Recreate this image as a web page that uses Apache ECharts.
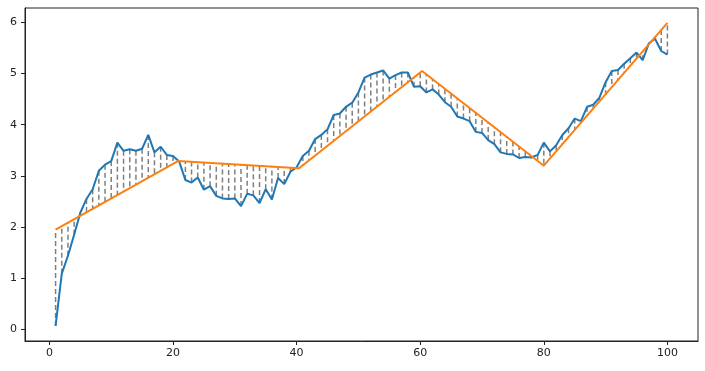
<!DOCTYPE html>
<html>
<head>
<meta charset="utf-8">
<script src="https://cdn.jsdelivr.net/npm/echarts@6/dist/echarts.min.js"></script>
<style>html,body{margin:0;padding:0;background:#fff}#c{width:705px;height:371px}</style>
</head>
<body>
<div id="c"></div>
<script>
// data x positions
var xValues = [];
for (var k = 1; k <= 100; k++) xValues.push(k);
// observed values (blue)
var observed = [0.07,1.09,1.44,1.85,2.28,2.55,2.74,3.10,3.22,3.29,
3.65,3.49,3.52,3.49,3.53,3.80,3.46,3.57,3.41,3.39,
3.28,2.92,2.87,2.97,2.73,2.80,2.61,2.56,2.55,2.56,
2.41,2.65,2.62,2.47,2.74,2.54,2.96,2.84,3.08,3.17,
3.39,3.49,3.72,3.80,3.91,4.19,4.22,4.35,4.43,4.63,
4.92,4.98,5.02,5.06,4.90,4.97,5.02,5.02,4.74,4.75,
4.63,4.69,4.59,4.44,4.35,4.16,4.12,4.07,3.86,3.84,
3.70,3.62,3.46,3.43,3.42,3.35,3.37,3.36,3.41,3.65,
3.48,3.60,3.80,3.93,4.12,4.07,4.35,4.39,4.53,4.83,
5.05,5.07,5.19,5.30,5.41,5.26,5.59,5.68,5.44,5.37];
// piecewise linear fit breakpoints (orange)
var fitBreakX = [1, 20.8, 40.4, 60.3, 80.0, 100];
var fitBreakY = [1.95, 3.29, 3.15, 5.05, 3.20, 5.99];
// tick labels
var xTicks = [0, 20, 40, 60, 80, 100];
var yTicks = [0, 1, 2, 3, 4, 5, 6];

function fitAt(x) {
  for (var i = 0; i < fitBreakX.length - 1; i++) {
    if (x <= fitBreakX[i + 1] || i === fitBreakX.length - 2) {
      var t = (x - fitBreakX[i]) / (fitBreakX[i + 1] - fitBreakX[i]);
      return fitBreakY[i] + t * (fitBreakY[i + 1] - fitBreakY[i]);
    }
  }
}

var blueData = xValues.map(function (x, i) { return [x, observed[i]]; });
var fitData = fitBreakX.map(function (x, i) { return [x, fitBreakY[i]]; });
var vlineData = xValues.map(function (x, i) { return [x, observed[i], fitAt(x)]; });

var font = 'DejaVu Sans';
var chart = echarts.init(document.getElementById('c'), null, {renderer: 'canvas'});
chart.setOption({
  animation: false,
  backgroundColor: '#fff',
  grid: {left: 25, right: 7, top: 8, bottom: 30, show: true, borderColor: '#222', borderWidth: 1, backgroundColor: 'transparent'},
  xAxis: {
    type: 'value', min: -3.95, max: 104.95,
    axisLine: {show: true, onZero: false, lineStyle: {color: '#222', width: 1}},
    axisTick: {show: true, length: 4, customValues: xTicks, lineStyle: {color: '#222'}},
    axisLabel: {customValues: xTicks, margin: 7, fontFamily: font, fontSize: 11, color: '#222'},
    splitLine: {show: false}
  },
  yAxis: {
    type: 'value', min: -0.225, max: 6.28,
    axisLine: {show: true, onZero: false, lineStyle: {color: '#222', width: 1}},
    axisTick: {show: true, length: 4, customValues: yTicks, lineStyle: {color: '#222'}},
    axisLabel: {customValues: yTicks, margin: 8, fontFamily: font, fontSize: 11, color: '#222'},
    splitLine: {show: false}
  },
  series: [
    {
      type: 'custom',
      data: vlineData,
      encode: {x: 0, y: [1, 2]},
      renderItem: function (params, api) {
        var x = api.value(0);
        var p0 = api.coord([x, api.value(1)]);
        var p1 = api.coord([x, api.value(2)]);
        return {type: 'line', shape: {x1: p0[0], y1: p0[1], x2: p1[0], y2: p1[1]},
          style: {stroke: '#7f7f7f', lineWidth: 1.5, lineDash: [5, 3]}};
      },
      z: 1
    },
    {
      type: 'line', data: blueData, showSymbol: false, symbol: 'none',
      lineStyle: {color: '#1f77b4', width: 2}, z: 2
    },
    {
      type: 'line', data: fitData, showSymbol: false, symbol: 'none',
      lineStyle: {color: '#ff7f0e', width: 2}, z: 3
    }
  ]
});
</script>
</body>
</html>
